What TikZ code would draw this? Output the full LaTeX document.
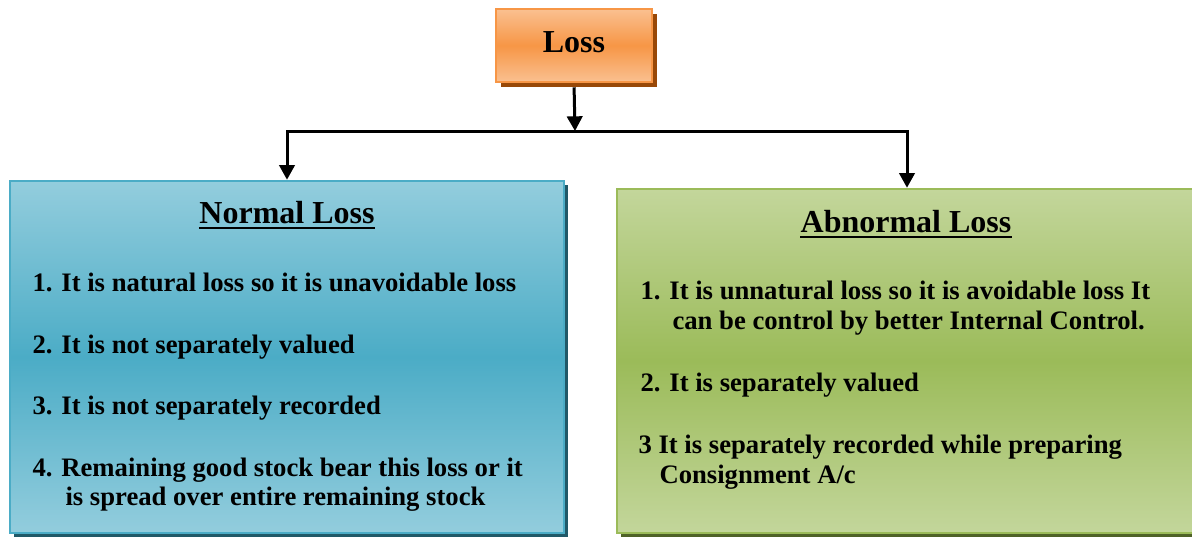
\documentclass[tikz,border=0pt]{standalone}
\usepackage{fontspec}
\setmainfont{Liberation Serif}
\usetikzlibrary{arrows.meta,calc,shadows}

\definecolor{lossLight}{HTML}{FAC090}
\definecolor{lossDark}{HTML}{F79646}
\definecolor{lossShade}{HTML}{984807}
\definecolor{normalLight}{HTML}{93CDDD}
\definecolor{normalDark}{HTML}{4BACC6}
\definecolor{normalShade}{HTML}{215968}
\definecolor{abnormalLight}{HTML}{C3D69B}
\definecolor{abnormalDark}{HTML}{9BBB59}
\definecolor{abnormalShade}{HTML}{4F6228}

\tikzset{every picture/.style={line width=0.75pt}}
\tikzset{
  box/.style={rectangle, inner sep=0pt, line width=1.9pt},
  conn/.style={line width=2.25pt, -{Triangle[width=11.5pt,length=11pt]}},
  head/.style={font=\fontsize{24}{28}\selectfont\bfseries, inner sep=0pt, anchor=base},
  item/.style={font=\fontsize{20}{24}\selectfont\bfseries, inner sep=0pt, anchor=base west},
}

\begin{document}
\begin{tikzpicture}[x=0.75pt,y=0.75pt,yscale=-1,xscale=1]
	\useasboundingbox (0,0) rectangle (1192,537);
	\clip (0,0) rectangle (1192,537);
	
	%Boxes
	\node [box, draw=lossDark, top color=lossLight, bottom color=lossLight, middle color=lossDark, minimum width=117pt, minimum height=54.75pt, drop shadow={shadow xshift=3.5pt, shadow yshift=-3.5pt, opacity=1, fill=lossShade}] (loss) at (574,45.5) {};
	\node [box, draw=normalDark, top color=normalLight, bottom color=normalLight, middle color=normalDark, minimum width=415.5pt, minimum height=264pt, drop shadow={shadow xshift=3pt, shadow yshift=-3pt, opacity=1, fill=normalShade}] (normal) at (287,357) {};
	\node [box, draw=abnormalDark, top color=abnormalLight, bottom color=abnormalLight, middle color=abnormalDark, minimum width=435pt, minimum height=258pt, drop shadow={shadow xshift=3pt, shadow yshift=-3pt, opacity=1, fill=abnormalShade}] (abnormal) at (907,361) {};
	\node [head] (losshead) at (574,52) {Loss};
	
	%Connectors
	\coordinate (split) at (575,131);
	\draw [conn, shorten <=3pt] (loss.south) -- (split);
	\draw [conn] (split) -| (normal.north);
	\draw [conn] (split) -| (abnormal.north);
	
	%Normal Loss
	\node [head] (normalhead) at (287,223) {Normal Loss};
	\draw [line width=2.2pt] ($(normalhead.base west)+(0,5)$) -- ($(normalhead.base east)+(0,5)$);
	\node [item] (n1) at (32,291) {1. It is natural loss so it is unavoidable loss};
	\node [item] (n2) at (32,353) {2. It is not separately valued};
	\node [item] (n3) at (32,414) {3. It is not separately recorded};
	\node [item] (n4a) at (32,476) {4. Remaining good stock bear this loss or it};
	\node [item] (n4b) at (65,505) {is spread over entire remaining stock};
	
	%Abnormal Loss
	\node [head] (abnormalhead) at (906,232) {Abnormal Loss};
	\draw [line width=2.2pt] ($(abnormalhead.base west)+(0,5)$) -- ($(abnormalhead.base east)+(0,5)$);
	\node [item] (a1a) at (640,299) {1. It is unnatural loss so it is avoidable loss It};
	\node [item] (a1b) at (672,329) {can be control by better Internal Control.};
	\node [item] (a2) at (640,391) {2. It is separately valued};
	\node [item] (a3a) at (638,453) {3 It is separately recorded while preparing};
	\node [item] (a3b) at (659,483) {Consignment A/c};
	
\end{tikzpicture}
\end{document}
